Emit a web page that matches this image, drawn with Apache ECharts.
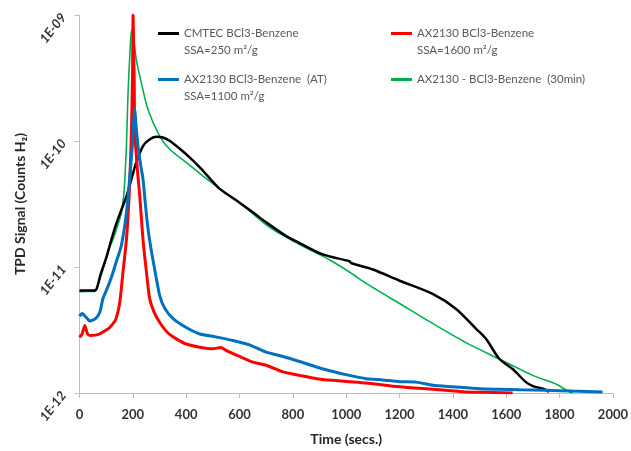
<!DOCTYPE html>
<html>
<head>
<meta charset="utf-8">
<script src="https://cdn.jsdelivr.net/npm/echarts@6/dist/echarts.min.js"></script>
<style>html,body{margin:0;padding:0;background:#fff;}#c{width:631px;height:451px;}</style>
</head>
<body>
<div id="c"></div>
<script>
// ---- data (time in s, TPD signal in counts H2) ----
var xTicks = [0, 200, 400, 600, 800, 1000, 1200, 1400, 1600, 1800, 2000];
var yTickLabels = ['1E-12', '1E-11', '1E-10', '1E-09'];

var seriesNames = ['CMTEC BCl3-Benzene', 'AX2130 BCl3-Benzene', 'AX2130 BCl3-Benzene  (AT)', 'AX2130 - BCl3-Benzene  (30min)'];
var seriesSubs = ['SSA=250 m\u00b2/g', 'SSA=1600 m\u00b2/g', 'SSA=1100 m\u00b2/g', ''];

var blackT = [0, 30, 57, 80, 101, 120, 139, 160, 176, 195, 213, 238, 260, 288, 310, 339, 375, 413, 451, 490, 526, 600, 650, 700, 775, 825, 912, 1012, 1020, 1100, 1200, 1324, 1412, 1487, 1524, 1574, 1624, 1674, 1700, 1743, 1760];
var blackV = [6.5e-12, 6.5e-12, 6.5e-12, 8.9e-12, 1.2e-11, 1.66e-11, 2.24e-11, 2.95e-11, 3.63e-11, 5.01e-11, 6.76e-11, 9.12e-11, 1.02e-10, 1.08e-10, 1.07e-10, 1.0e-10, 8.71e-11, 7.41e-11, 6.17e-11, 5.01e-11, 4.17e-11, 3.24e-11, 2.72e-11, 2.26e-11, 1.76e-11, 1.55e-11, 1.26e-11, 1.11e-11, 1.07e-11, 9.55e-12, 7.78e-12, 6.11e-12, 4.65e-12, 3.23e-12, 2.69e-12, 1.87e-12, 1.55e-12, 1.22e-12, 1.135e-12, 1.07e-12, 1.02e-12];

var greenT = [0, 30, 57, 76, 88, 110, 126, 145, 157, 165, 170, 176, 182, 188, 195, 200, 213, 232, 257, 301, 339, 400, 463, 538, 600, 713, 825, 912, 950, 1012, 1075, 1200, 1325, 1449, 1574, 1699, 1790, 1836, 1850];
var greenV = [6.38e-12, 6.4e-12, 6.4e-12, 7.94e-12, 9.55e-12, 1.38e-11, 1.66e-11, 2.19e-11, 2.69e-11, 3.55e-11, 5.01e-11, 9.12e-11, 2.40e-10, 4.47e-10, 7.59e-10, 7.24e-10, 4.42e-10, 2.88e-10, 1.77e-10, 1.09e-10, 8.57e-11, 6.76e-11, 5.27e-11, 4.01e-11, 3.24e-11, 2.06e-11, 1.51e-11, 1.22e-11, 1.10e-11, 9.12e-12, 7.41e-12, 5.13e-12, 3.55e-12, 2.51e-12, 1.86e-12, 1.38e-12, 1.17e-12, 1.02e-12, 1.0e-12];

var redT = [0, 10, 20, 30, 40, 60, 76, 100, 114, 135, 151, 163, 176, 186, 191, 195, 199, 201, 203, 205, 207, 216, 226, 238, 251, 263, 280, 301, 330, 363, 400, 451, 500, 530, 551, 600, 650, 700, 763, 825, 888, 950, 1012, 1075, 1200, 1325, 1449, 1550, 1624];
var redV = [2.77e-12, 2.95e-12, 3.43e-12, 2.95e-12, 2.86e-12, 2.88e-12, 2.95e-12, 3.16e-12, 3.33e-12, 3.8e-12, 5.25e-12, 9.12e-12, 1.66e-11, 3.63e-11, 6.76e-11, 1.23e-10, 3.55e-10, 1.0e-9, 1.0e-9, 3.16e-10, 1.23e-10, 6.3e-11, 3.63e-11, 1.66e-11, 9.12e-12, 5.62e-12, 4.37e-12, 3.63e-12, 3.02e-12, 2.69e-12, 2.45e-12, 2.31e-12, 2.24e-12, 2.3e-12, 2.17e-12, 1.95e-12, 1.76e-12, 1.66e-12, 1.47e-12, 1.38e-12, 1.30e-12, 1.26e-12, 1.23e-12, 1.20e-12, 1.12e-12, 1.07e-12, 1.02e-12, 1.01e-12, 1.0e-12];

var blueT = [0, 10, 25, 40, 60, 76, 88, 100, 120, 139, 157, 176, 188, 198, 207, 213, 220, 230, 238, 247, 257, 270, 282, 301, 320, 351, 400, 451, 510, 575, 640, 700, 763, 825, 888, 950, 1012, 1075, 1137, 1200, 1262, 1325, 1400, 1500, 1574, 1650, 1750, 1850, 1961];
var blueV = [4.07e-12, 4.27e-12, 3.98e-12, 3.72e-12, 3.89e-12, 4.37e-12, 5.62e-12, 6.46e-12, 8.32e-12, 1.12e-11, 1.48e-11, 2.69e-11, 5.01e-11, 9.12e-11, 1.78e-10, 1.26e-10, 8.91e-11, 6.31e-11, 5.01e-11, 3.16e-11, 2.0e-11, 1.32e-11, 9.55e-12, 5.89e-12, 4.68e-12, 3.89e-12, 3.31e-12, 2.94e-12, 2.79e-12, 2.61e-12, 2.4e-12, 2.11e-12, 1.95e-12, 1.78e-12, 1.61e-12, 1.48e-12, 1.38e-12, 1.30e-12, 1.27e-12, 1.23e-12, 1.22e-12, 1.15e-12, 1.12e-12, 1.08e-12, 1.07e-12, 1.06e-12, 1.05e-12, 1.035e-12, 1.02e-12];

function pairs(t, v) { return t.map(function (x, i) { return [x, v[i]]; }); }

var colors = ['#000000', '#ff0000', '#0070c0', '#00b050'];
var FONT = 'Lato, "Liberation Sans", sans-serif';

// legend icon: bar sitting at the first text line of a two-line label
var twoLineIcon = 'path://M0,0h0.01v0.01h-0.01z M0,7.5h21v3h-21z M0,34h0.01v0.01h-0.01z';

function mkLegend(name, sub, left, top) {
  return {
    left: left, top: top, orient: 'vertical',
    data: [name],
    icon: sub ? twoLineIcon : 'rect',
    itemWidth: 21, itemHeight: sub ? 34 : 3,
    padding: 0,
    selectedMode: false,
    formatter: function (n) { return sub ? n + '\n' + sub : n; },
    textStyle: { color: '#595959', fontFamily: FONT, fontSize: 11.5, lineHeight: 17 }
  };
}

var chart = echarts.init(document.getElementById('c'), null, { renderer: 'canvas' });
chart.setOption({
  animation: false,
  backgroundColor: '#ffffff',
  grid: { left: 79.5, right: 17.5, top: 15, bottom: 57, containLabel: false },
  legend: [
    mkLegend(seriesNames[0], seriesSubs[0], 158, 24.5),
    mkLegend(seriesNames[2], seriesSubs[2], 158, 70.5),
    mkLegend(seriesNames[1], seriesSubs[1], 391, 24.5),
    mkLegend(seriesNames[3], seriesSubs[3], 391, 71)
  ],
  xAxis: {
    type: 'value', min: 0, max: 2000, interval: 200,
    name: 'Time (secs.)', nameLocation: 'middle', nameGap: 39,
    nameTextStyle: { fontFamily: FONT, fontWeight: 'bold', fontSize: 14, color: '#262626' },
    axisLine: { show: true, lineStyle: { color: '#bfbfbf', width: 1 } },
    axisTick: { show: true, length: 5, lineStyle: { color: '#bfbfbf' } },
    splitLine: { show: false },
    axisLabel: {
      fontFamily: FONT, fontWeight: 'bold', fontSize: 13, color: '#333333', margin: 15,
      formatter: function (v) { return xTicks.indexOf(v) >= 0 ? String(v) : ''; }
    }
  },
  yAxis: {
    type: 'log', logBase: 10, min: 1e-12, max: 1e-9,
    name: 'TPD Signal (Counts H\u2082)', nameLocation: 'middle', nameGap: 51, nameRotate: 90,
    nameTextStyle: { fontFamily: FONT, fontWeight: 'bold', fontSize: 14, color: '#262626' },
    axisLine: { show: true, lineStyle: { color: '#bfbfbf', width: 1 } },
    axisTick: { show: true, length: 5, lineStyle: { color: '#bfbfbf' } },
    splitLine: { show: false },
    axisLabel: {
      rotate: 52, margin: 16,
      fontFamily: FONT, fontWeight: 'bold', fontStyle: 'italic', fontSize: 13, color: '#333333',
      formatter: function (v) {
        var e = Math.round(Math.log10(v));
        return yTickLabels[e + 12] || '';
      }
    }
  },
  series: [
    { name: seriesNames[3], type: 'line', data: pairs(greenT, greenV), showSymbol: false, smooth: 0.25, color: colors[3], lineStyle: { width: 1.6, color: colors[3] }, z: 2 },
    { name: seriesNames[0], type: 'line', data: pairs(blackT, blackV), showSymbol: false, smooth: 0.3, color: colors[0], lineStyle: { width: 2.5, color: colors[0] }, z: 3 },
    { name: seriesNames[1], type: 'line', data: pairs(redT, redV), showSymbol: false, smooth: 0.2, color: colors[1], lineStyle: { width: 3, color: colors[1] }, z: 4 },
    { name: seriesNames[2], type: 'line', data: pairs(blueT, blueV), showSymbol: false, smooth: 0.2, color: colors[2], lineStyle: { width: 3, color: colors[2] }, z: 5 }
  ]
});
</script>
</body>
</html>
